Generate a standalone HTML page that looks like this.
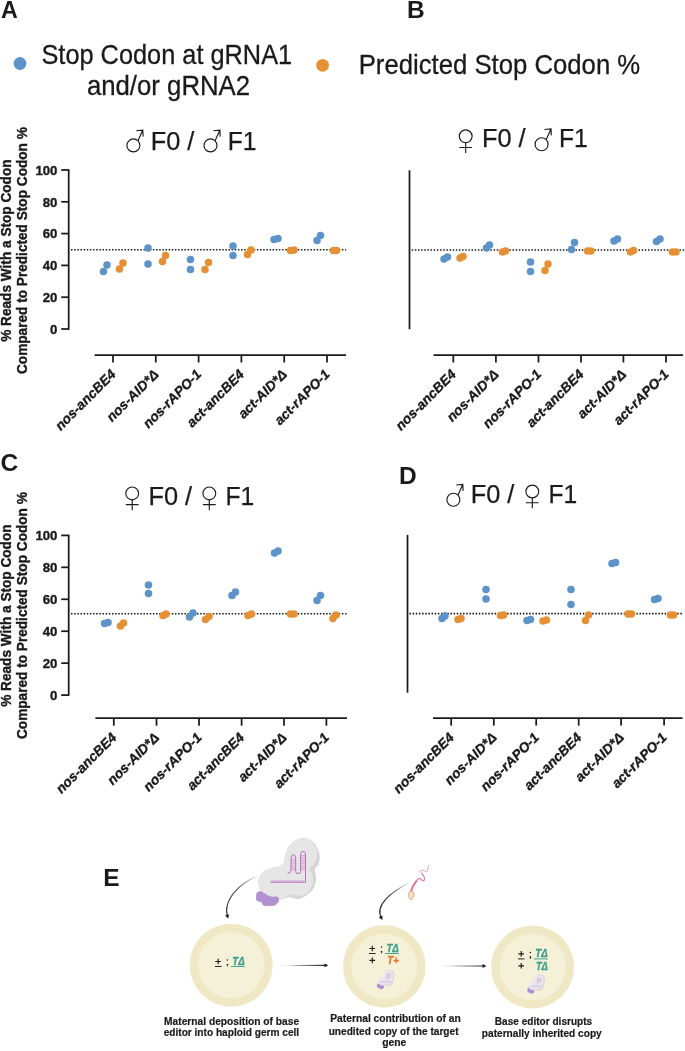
<!DOCTYPE html>
<html><head><meta charset="utf-8"><title>Figure</title>
<style>html,body{margin:0;padding:0;background:#fff;}body{width:685px;height:1051px;overflow:hidden;font-family:"Liberation Sans",sans-serif;}svg{display:block;will-change:transform;font-family:"Liberation Sans",sans-serif;}</style>
</head><body>
<svg width="685" height="1051" viewBox="0 0 685 1051">
<rect width="685" height="1051" fill="#ffffff"/>
<text x="0.9" y="17.8" font-size="24.5" font-weight="bold" font-style="normal" text-anchor="start" fill="#1a1a1a" textLength="16.8" lengthAdjust="spacingAndGlyphs">A</text>
<text x="407.1" y="17.8" font-size="24.5" font-weight="bold" font-style="normal" text-anchor="start" fill="#1a1a1a" >B</text>
<text x="0.6" y="471.4" font-size="24.5" font-weight="bold" font-style="normal" text-anchor="start" fill="#1a1a1a" >C</text>
<text x="398.9" y="483.8" font-size="24.5" font-weight="bold" font-style="normal" text-anchor="start" fill="#1a1a1a" >D</text>
<text x="103.2" y="885.9" font-size="24.5" font-weight="bold" font-style="normal" text-anchor="start" fill="#1a1a1a" >E</text>
<circle cx="20" cy="63.5" r="6.4" fill="#5c93c9"/>
<text x="166.8" y="63.6" font-size="27.4" font-weight="normal" font-style="normal" text-anchor="middle" fill="#1a1a1a" stroke="#1a1a1a" stroke-width="0.3" lengthAdjust="spacingAndGlyphs" textLength="250.7">Stop Codon at gRNA1</text>
<text x="168.5" y="94.9" font-size="27.4" font-weight="normal" font-style="normal" text-anchor="middle" fill="#1a1a1a" stroke="#1a1a1a" stroke-width="0.3" lengthAdjust="spacingAndGlyphs" textLength="163.2">and/or gRNA2</text>
<circle cx="322.6" cy="65.3" r="6.4" fill="#e69035"/>
<text x="358.7" y="73.9" font-size="27.4" font-weight="normal" font-style="normal" text-anchor="start" fill="#1a1a1a" stroke="#1a1a1a" stroke-width="0.3" lengthAdjust="spacingAndGlyphs" textLength="281.5">Predicted Stop Codon %</text>
<g fill="none" stroke="#1a1a1a" stroke-width="1.15"><circle cx="133.4" cy="145.4" r="6.5"/><path d="M138.0 140.8 L142.8 130.1 M136.3 130.7 L142.8 130.1 L143.1 136.6"/></g>
<text x="150.7" y="149.7" font-size="25.8" fill="#1a1a1a" stroke="#1a1a1a" stroke-width="0.25" textLength="43.7" lengthAdjust="spacingAndGlyphs">F0 /</text>
<g fill="none" stroke="#1a1a1a" stroke-width="1.15"><circle cx="210.5" cy="145.4" r="6.5"/><path d="M215.1 140.8 L219.9 130.1 M213.4 130.7 L219.9 130.1 L220.2 136.6"/></g>
<text x="227.8" y="149.7" font-size="25.8" fill="#1a1a1a" stroke="#1a1a1a" stroke-width="0.25" textLength="28.8" lengthAdjust="spacingAndGlyphs">F1</text>
<g fill="none" stroke="#1a1a1a" stroke-width="1.15"><circle cx="465.7" cy="136.3" r="6.4"/><path d="M465.7 142.70000000000002 L465.7 153.10000000000002 M459.3 147.5 L472.09999999999997 147.5"/></g>
<text x="481.9" y="146.6" font-size="25.8" fill="#1a1a1a" stroke="#1a1a1a" stroke-width="0.25" textLength="43.7" lengthAdjust="spacingAndGlyphs">F0 /</text>
<g fill="none" stroke="#1a1a1a" stroke-width="1.15"><circle cx="541.6" cy="144.2" r="6.5"/><path d="M546.2 139.6 L551.0 128.9 M544.5 129.5 L551.0 128.9 L551.3 135.4"/></g>
<text x="559.0" y="146.6" font-size="25.8" fill="#1a1a1a" stroke="#1a1a1a" stroke-width="0.25" textLength="28.8" lengthAdjust="spacingAndGlyphs">F1</text>
<g fill="none" stroke="#1a1a1a" stroke-width="1.15"><circle cx="132.2" cy="493.4" r="6.4"/><path d="M132.2 499.79999999999995 L132.2 510.2 M125.79999999999998 504.59999999999997 L138.6 504.59999999999997"/></g>
<text x="148.4" y="505" font-size="25.8" fill="#1a1a1a" stroke="#1a1a1a" stroke-width="0.25" textLength="43.7" lengthAdjust="spacingAndGlyphs">F0 /</text>
<g fill="none" stroke="#1a1a1a" stroke-width="1.15"><circle cx="209.3" cy="493.4" r="6.4"/><path d="M209.3 499.79999999999995 L209.3 510.2 M202.9 504.59999999999997 L215.70000000000002 504.59999999999997"/></g>
<text x="225.5" y="505" font-size="25.8" fill="#1a1a1a" stroke="#1a1a1a" stroke-width="0.25" textLength="28.8" lengthAdjust="spacingAndGlyphs">F1</text>
<g fill="none" stroke="#1a1a1a" stroke-width="1.15"><circle cx="453.4" cy="499.7" r="6.5"/><path d="M458.0 495.1 L462.8 484.4 M456.3 485.0 L462.8 484.4 L463.1 490.9"/></g>
<text x="470.7" y="502.6" font-size="25.8" fill="#1a1a1a" stroke="#1a1a1a" stroke-width="0.25" textLength="43.7" lengthAdjust="spacingAndGlyphs">F0 /</text>
<g fill="none" stroke="#1a1a1a" stroke-width="1.15"><circle cx="532.3" cy="491.5" r="6.4"/><path d="M532.3 497.9 L532.3 508.3 M525.9 502.7 L538.6999999999999 502.7"/></g>
<text x="548.5" y="502.6" font-size="25.8" fill="#1a1a1a" stroke="#1a1a1a" stroke-width="0.25" textLength="28.8" lengthAdjust="spacingAndGlyphs">F1</text>
<line x1="71" y1="249.8" x2="346.2" y2="249.8" stroke="#1a1a1a" stroke-width="1.6" stroke-dasharray="1.5 1.65"/><line x1="68.7" y1="169.3" x2="68.7" y2="329.7" stroke="#1a1a1a" stroke-width="1.75"/><line x1="61.2" y1="170.00" x2="68.7" y2="170.00" stroke="#1a1a1a" stroke-width="1.75"/><text x="57.400000000000006" y="174.7" font-size="13.2" font-weight="bold" font-style="normal" text-anchor="end" fill="#1a1a1a" stroke="#1a1a1a" stroke-width="0.35">100</text><line x1="61.2" y1="201.80" x2="68.7" y2="201.80" stroke="#1a1a1a" stroke-width="1.75"/><text x="57.400000000000006" y="206.5" font-size="13.2" font-weight="bold" font-style="normal" text-anchor="end" fill="#1a1a1a" stroke="#1a1a1a" stroke-width="0.35">80</text><line x1="61.2" y1="233.60" x2="68.7" y2="233.60" stroke="#1a1a1a" stroke-width="1.75"/><text x="57.400000000000006" y="238.3" font-size="13.2" font-weight="bold" font-style="normal" text-anchor="end" fill="#1a1a1a" stroke="#1a1a1a" stroke-width="0.35">60</text><line x1="61.2" y1="265.40" x2="68.7" y2="265.40" stroke="#1a1a1a" stroke-width="1.75"/><text x="57.400000000000006" y="270.1" font-size="13.2" font-weight="bold" font-style="normal" text-anchor="end" fill="#1a1a1a" stroke="#1a1a1a" stroke-width="0.35">40</text><line x1="61.2" y1="297.20" x2="68.7" y2="297.20" stroke="#1a1a1a" stroke-width="1.75"/><text x="57.400000000000006" y="301.9" font-size="13.2" font-weight="bold" font-style="normal" text-anchor="end" fill="#1a1a1a" stroke="#1a1a1a" stroke-width="0.35">20</text><line x1="61.2" y1="329.00" x2="68.7" y2="329.00" stroke="#1a1a1a" stroke-width="1.75"/><text x="57.400000000000006" y="333.7" font-size="13.2" font-weight="bold" font-style="normal" text-anchor="end" fill="#1a1a1a" stroke="#1a1a1a" stroke-width="0.35">0</text><line x1="94.6" y1="355" x2="346" y2="355" stroke="#1a1a1a" stroke-width="1.75"/><line x1="113" y1="355" x2="113" y2="362.5" stroke="#1a1a1a" stroke-width="1.75"/><text transform="translate(116.6,375.2) rotate(-45)" font-size="13.7" font-weight="bold" font-style="italic" text-anchor="end" fill="#1a1a1a" stroke="#1a1a1a" stroke-width="0.35">nos-ancBE4</text><line x1="155.8" y1="355" x2="155.8" y2="362.5" stroke="#1a1a1a" stroke-width="1.75"/><text transform="translate(159.4,375.2) rotate(-45)" font-size="13.7" font-weight="bold" font-style="italic" text-anchor="end" fill="#1a1a1a" stroke="#1a1a1a" stroke-width="0.35">nos-AID*Δ</text><line x1="198.6" y1="355" x2="198.6" y2="362.5" stroke="#1a1a1a" stroke-width="1.75"/><text transform="translate(202.2,375.2) rotate(-45)" font-size="13.7" font-weight="bold" font-style="italic" text-anchor="end" fill="#1a1a1a" stroke="#1a1a1a" stroke-width="0.35">nos-rAPO-1</text><line x1="241.4" y1="355" x2="241.4" y2="362.5" stroke="#1a1a1a" stroke-width="1.75"/><text transform="translate(245.0,375.2) rotate(-45)" font-size="13.7" font-weight="bold" font-style="italic" text-anchor="end" fill="#1a1a1a" stroke="#1a1a1a" stroke-width="0.35">act-ancBE4</text><line x1="284.2" y1="355" x2="284.2" y2="362.5" stroke="#1a1a1a" stroke-width="1.75"/><text transform="translate(287.8,375.2) rotate(-45)" font-size="13.7" font-weight="bold" font-style="italic" text-anchor="end" fill="#1a1a1a" stroke="#1a1a1a" stroke-width="0.35">act-AID*Δ</text><line x1="327" y1="355" x2="327" y2="362.5" stroke="#1a1a1a" stroke-width="1.75"/><text transform="translate(330.6,375.2) rotate(-45)" font-size="13.7" font-weight="bold" font-style="italic" text-anchor="end" fill="#1a1a1a" stroke="#1a1a1a" stroke-width="0.35">act-rAPO-1</text><circle cx="103.5" cy="271.5" r="3.75" fill="#5c93c9"/><circle cx="107" cy="265" r="3.75" fill="#5c93c9"/><circle cx="148" cy="248" r="3.75" fill="#5c93c9"/><circle cx="148" cy="264" r="3.75" fill="#5c93c9"/><circle cx="190.5" cy="259.5" r="3.75" fill="#5c93c9"/><circle cx="190.5" cy="269.5" r="3.75" fill="#5c93c9"/><circle cx="233" cy="246" r="3.75" fill="#5c93c9"/><circle cx="233" cy="255.5" r="3.75" fill="#5c93c9"/><circle cx="274" cy="239.5" r="3.75" fill="#5c93c9"/><circle cx="278" cy="238.5" r="3.75" fill="#5c93c9"/><circle cx="317" cy="240.5" r="3.75" fill="#5c93c9"/><circle cx="320.5" cy="235.5" r="3.75" fill="#5c93c9"/><circle cx="119.5" cy="269" r="3.75" fill="#e69035"/><circle cx="123" cy="263" r="3.75" fill="#e69035"/><circle cx="162.5" cy="261.5" r="3.75" fill="#e69035"/><circle cx="165.5" cy="255.5" r="3.75" fill="#e69035"/><circle cx="205" cy="269.5" r="3.75" fill="#e69035"/><circle cx="208.5" cy="262.5" r="3.75" fill="#e69035"/><circle cx="247.5" cy="254.5" r="3.75" fill="#e69035"/><circle cx="251" cy="250" r="3.75" fill="#e69035"/><circle cx="290.5" cy="250.5" r="3.75" fill="#e69035"/><circle cx="294" cy="250" r="3.75" fill="#e69035"/><circle cx="333.5" cy="250.5" r="3.75" fill="#e69035"/><circle cx="336.5" cy="250.5" r="3.75" fill="#e69035"/>
<text transform="translate(11.4,250.6) rotate(-90) scale(1,1.06)" font-size="13.65" font-weight="bold" text-anchor="middle" fill="#1a1a1a" stroke="#1a1a1a" stroke-width="0.35">% Reads With a Stop Codon</text><text transform="translate(27.4,250.6) rotate(-90) scale(1,1.06)" font-size="13.65" font-weight="bold" text-anchor="middle" fill="#1a1a1a" stroke="#1a1a1a" stroke-width="0.35">Compared to Predicted Stop Codon %</text>
<line x1="411.7" y1="250" x2="685" y2="250" stroke="#1a1a1a" stroke-width="1.6" stroke-dasharray="1.5 1.65"/><line x1="409.5" y1="170.3" x2="409.5" y2="329.2" stroke="#1a1a1a" stroke-width="1.75"/><line x1="433.5" y1="355" x2="683" y2="355" stroke="#1a1a1a" stroke-width="1.75"/><line x1="453.3" y1="355" x2="453.3" y2="362.5" stroke="#1a1a1a" stroke-width="1.75"/><text transform="translate(456.90000000000003,375.2) rotate(-45)" font-size="13.7" font-weight="bold" font-style="italic" text-anchor="end" fill="#1a1a1a" stroke="#1a1a1a" stroke-width="0.35">nos-ancBE4</text><line x1="495.9" y1="355" x2="495.9" y2="362.5" stroke="#1a1a1a" stroke-width="1.75"/><text transform="translate(499.5,375.2) rotate(-45)" font-size="13.7" font-weight="bold" font-style="italic" text-anchor="end" fill="#1a1a1a" stroke="#1a1a1a" stroke-width="0.35">nos-AID*Δ</text><line x1="538.5" y1="355" x2="538.5" y2="362.5" stroke="#1a1a1a" stroke-width="1.75"/><text transform="translate(542.1,375.2) rotate(-45)" font-size="13.7" font-weight="bold" font-style="italic" text-anchor="end" fill="#1a1a1a" stroke="#1a1a1a" stroke-width="0.35">nos-rAPO-1</text><line x1="581" y1="355" x2="581" y2="362.5" stroke="#1a1a1a" stroke-width="1.75"/><text transform="translate(584.6,375.2) rotate(-45)" font-size="13.7" font-weight="bold" font-style="italic" text-anchor="end" fill="#1a1a1a" stroke="#1a1a1a" stroke-width="0.35">act-ancBE4</text><line x1="623.4" y1="355" x2="623.4" y2="362.5" stroke="#1a1a1a" stroke-width="1.75"/><text transform="translate(627.0,375.2) rotate(-45)" font-size="13.7" font-weight="bold" font-style="italic" text-anchor="end" fill="#1a1a1a" stroke="#1a1a1a" stroke-width="0.35">act-AID*Δ</text><line x1="666" y1="355" x2="666" y2="362.5" stroke="#1a1a1a" stroke-width="1.75"/><text transform="translate(669.6,375.2) rotate(-45)" font-size="13.7" font-weight="bold" font-style="italic" text-anchor="end" fill="#1a1a1a" stroke="#1a1a1a" stroke-width="0.35">act-rAPO-1</text><circle cx="444" cy="259" r="3.75" fill="#5c93c9"/><circle cx="447.5" cy="257" r="3.75" fill="#5c93c9"/><circle cx="486.5" cy="248" r="3.75" fill="#5c93c9"/><circle cx="489.5" cy="245" r="3.75" fill="#5c93c9"/><circle cx="530.5" cy="262" r="3.75" fill="#5c93c9"/><circle cx="530.5" cy="271.5" r="3.75" fill="#5c93c9"/><circle cx="571.5" cy="249.5" r="3.75" fill="#5c93c9"/><circle cx="574.5" cy="242.5" r="3.75" fill="#5c93c9"/><circle cx="614" cy="241" r="3.75" fill="#5c93c9"/><circle cx="617.5" cy="239" r="3.75" fill="#5c93c9"/><circle cx="656.5" cy="241.5" r="3.75" fill="#5c93c9"/><circle cx="660" cy="239" r="3.75" fill="#5c93c9"/><circle cx="460" cy="258" r="3.75" fill="#e69035"/><circle cx="463" cy="256.5" r="3.75" fill="#e69035"/><circle cx="502.5" cy="252" r="3.75" fill="#e69035"/><circle cx="505.5" cy="251" r="3.75" fill="#e69035"/><circle cx="545" cy="270.5" r="3.75" fill="#e69035"/><circle cx="548" cy="264" r="3.75" fill="#e69035"/><circle cx="587.5" cy="251" r="3.75" fill="#e69035"/><circle cx="591" cy="251" r="3.75" fill="#e69035"/><circle cx="630.5" cy="252" r="3.75" fill="#e69035"/><circle cx="633.5" cy="250.5" r="3.75" fill="#e69035"/><circle cx="672.5" cy="252" r="3.75" fill="#e69035"/><circle cx="676" cy="252" r="3.75" fill="#e69035"/>
<line x1="71" y1="613.7" x2="347" y2="613.7" stroke="#1a1a1a" stroke-width="1.6" stroke-dasharray="1.5 1.65"/><line x1="68.7" y1="534.6999999999999" x2="68.7" y2="695.8000000000001" stroke="#1a1a1a" stroke-width="1.75"/><line x1="61.2" y1="535.40" x2="68.7" y2="535.40" stroke="#1a1a1a" stroke-width="1.75"/><text x="57.400000000000006" y="540.1" font-size="13.2" font-weight="bold" font-style="normal" text-anchor="end" fill="#1a1a1a" stroke="#1a1a1a" stroke-width="0.35">100</text><line x1="61.2" y1="567.34" x2="68.7" y2="567.34" stroke="#1a1a1a" stroke-width="1.75"/><text x="57.400000000000006" y="572.04" font-size="13.2" font-weight="bold" font-style="normal" text-anchor="end" fill="#1a1a1a" stroke="#1a1a1a" stroke-width="0.35">80</text><line x1="61.2" y1="599.28" x2="68.7" y2="599.28" stroke="#1a1a1a" stroke-width="1.75"/><text x="57.400000000000006" y="603.98" font-size="13.2" font-weight="bold" font-style="normal" text-anchor="end" fill="#1a1a1a" stroke="#1a1a1a" stroke-width="0.35">60</text><line x1="61.2" y1="631.22" x2="68.7" y2="631.22" stroke="#1a1a1a" stroke-width="1.75"/><text x="57.400000000000006" y="635.92" font-size="13.2" font-weight="bold" font-style="normal" text-anchor="end" fill="#1a1a1a" stroke="#1a1a1a" stroke-width="0.35">40</text><line x1="61.2" y1="663.16" x2="68.7" y2="663.16" stroke="#1a1a1a" stroke-width="1.75"/><text x="57.400000000000006" y="667.86" font-size="13.2" font-weight="bold" font-style="normal" text-anchor="end" fill="#1a1a1a" stroke="#1a1a1a" stroke-width="0.35">20</text><line x1="61.2" y1="695.10" x2="68.7" y2="695.10" stroke="#1a1a1a" stroke-width="1.75"/><text x="57.400000000000006" y="699.8" font-size="13.2" font-weight="bold" font-style="normal" text-anchor="end" fill="#1a1a1a" stroke="#1a1a1a" stroke-width="0.35">0</text><line x1="95.4" y1="718.2" x2="347" y2="718.2" stroke="#1a1a1a" stroke-width="1.75"/><line x1="113.8" y1="718.2" x2="113.8" y2="725.7" stroke="#1a1a1a" stroke-width="1.75"/><text transform="translate(117.39999999999999,738.4000000000001) rotate(-45)" font-size="13.7" font-weight="bold" font-style="italic" text-anchor="end" fill="#1a1a1a" stroke="#1a1a1a" stroke-width="0.35">nos-ancBE4</text><line x1="156.5" y1="718.2" x2="156.5" y2="725.7" stroke="#1a1a1a" stroke-width="1.75"/><text transform="translate(160.1,738.4000000000001) rotate(-45)" font-size="13.7" font-weight="bold" font-style="italic" text-anchor="end" fill="#1a1a1a" stroke="#1a1a1a" stroke-width="0.35">nos-AID*Δ</text><line x1="199" y1="718.2" x2="199" y2="725.7" stroke="#1a1a1a" stroke-width="1.75"/><text transform="translate(202.6,738.4000000000001) rotate(-45)" font-size="13.7" font-weight="bold" font-style="italic" text-anchor="end" fill="#1a1a1a" stroke="#1a1a1a" stroke-width="0.35">nos-rAPO-1</text><line x1="241.6" y1="718.2" x2="241.6" y2="725.7" stroke="#1a1a1a" stroke-width="1.75"/><text transform="translate(245.2,738.4000000000001) rotate(-45)" font-size="13.7" font-weight="bold" font-style="italic" text-anchor="end" fill="#1a1a1a" stroke="#1a1a1a" stroke-width="0.35">act-ancBE4</text><line x1="284" y1="718.2" x2="284" y2="725.7" stroke="#1a1a1a" stroke-width="1.75"/><text transform="translate(287.6,738.4000000000001) rotate(-45)" font-size="13.7" font-weight="bold" font-style="italic" text-anchor="end" fill="#1a1a1a" stroke="#1a1a1a" stroke-width="0.35">act-AID*Δ</text><line x1="326.4" y1="718.2" x2="326.4" y2="725.7" stroke="#1a1a1a" stroke-width="1.75"/><text transform="translate(330.0,738.4000000000001) rotate(-45)" font-size="13.7" font-weight="bold" font-style="italic" text-anchor="end" fill="#1a1a1a" stroke="#1a1a1a" stroke-width="0.35">act-rAPO-1</text><circle cx="104.5" cy="623.4" r="3.75" fill="#5c93c9"/><circle cx="108.0" cy="622.4" r="3.75" fill="#5c93c9"/><circle cx="148.5" cy="584.9" r="3.75" fill="#5c93c9"/><circle cx="148.5" cy="593.4" r="3.75" fill="#5c93c9"/><circle cx="189.5" cy="616.9" r="3.75" fill="#5c93c9"/><circle cx="193.0" cy="612.9" r="3.75" fill="#5c93c9"/><circle cx="232.0" cy="595.4" r="3.75" fill="#5c93c9"/><circle cx="235.5" cy="591.9" r="3.75" fill="#5c93c9"/><circle cx="274.5" cy="552.9" r="3.75" fill="#5c93c9"/><circle cx="278.0" cy="550.9" r="3.75" fill="#5c93c9"/><circle cx="317.0" cy="600.4" r="3.75" fill="#5c93c9"/><circle cx="320.5" cy="595.4" r="3.75" fill="#5c93c9"/><circle cx="120.5" cy="625.9" r="3.75" fill="#e69035"/><circle cx="123.5" cy="622.9" r="3.75" fill="#e69035"/><circle cx="163.0" cy="615.4" r="3.75" fill="#e69035"/><circle cx="166.0" cy="613.9" r="3.75" fill="#e69035"/><circle cx="205.5" cy="619.4" r="3.75" fill="#e69035"/><circle cx="209.0" cy="616.4" r="3.75" fill="#e69035"/><circle cx="248.0" cy="615.4" r="3.75" fill="#e69035"/><circle cx="251.5" cy="613.9" r="3.75" fill="#e69035"/><circle cx="290.5" cy="613.9" r="3.75" fill="#e69035"/><circle cx="294.0" cy="613.9" r="3.75" fill="#e69035"/><circle cx="333.0" cy="618.4" r="3.75" fill="#e69035"/><circle cx="336.0" cy="614.9" r="3.75" fill="#e69035"/>
<text transform="translate(11.4,615.6) rotate(-90) scale(1,1.06)" font-size="13.65" font-weight="bold" text-anchor="middle" fill="#1a1a1a" stroke="#1a1a1a" stroke-width="0.35">% Reads With a Stop Codon</text><text transform="translate(27.4,615.6) rotate(-90) scale(1,1.06)" font-size="13.65" font-weight="bold" text-anchor="middle" fill="#1a1a1a" stroke="#1a1a1a" stroke-width="0.35">Compared to Predicted Stop Codon %</text>
<line x1="409.5" y1="613.6" x2="683" y2="613.6" stroke="#1a1a1a" stroke-width="1.6" stroke-dasharray="1.5 1.65"/><line x1="407.5" y1="534.9" x2="407.5" y2="692.7" stroke="#1a1a1a" stroke-width="1.75"/><line x1="433" y1="718.1" x2="682.5" y2="718.1" stroke="#1a1a1a" stroke-width="1.75"/><line x1="451.2" y1="718.1" x2="451.2" y2="725.6" stroke="#1a1a1a" stroke-width="1.75"/><text transform="translate(454.8,738.3000000000001) rotate(-45)" font-size="13.7" font-weight="bold" font-style="italic" text-anchor="end" fill="#1a1a1a" stroke="#1a1a1a" stroke-width="0.35">nos-ancBE4</text><line x1="493.8" y1="718.1" x2="493.8" y2="725.6" stroke="#1a1a1a" stroke-width="1.75"/><text transform="translate(497.40000000000003,738.3000000000001) rotate(-45)" font-size="13.7" font-weight="bold" font-style="italic" text-anchor="end" fill="#1a1a1a" stroke="#1a1a1a" stroke-width="0.35">nos-AID*Δ</text><line x1="536.2" y1="718.1" x2="536.2" y2="725.6" stroke="#1a1a1a" stroke-width="1.75"/><text transform="translate(539.8000000000001,738.3000000000001) rotate(-45)" font-size="13.7" font-weight="bold" font-style="italic" text-anchor="end" fill="#1a1a1a" stroke="#1a1a1a" stroke-width="0.35">nos-rAPO-1</text><line x1="578.7" y1="718.1" x2="578.7" y2="725.6" stroke="#1a1a1a" stroke-width="1.75"/><text transform="translate(582.3000000000001,738.3000000000001) rotate(-45)" font-size="13.7" font-weight="bold" font-style="italic" text-anchor="end" fill="#1a1a1a" stroke="#1a1a1a" stroke-width="0.35">act-ancBE4</text><line x1="621.1" y1="718.1" x2="621.1" y2="725.6" stroke="#1a1a1a" stroke-width="1.75"/><text transform="translate(624.7,738.3000000000001) rotate(-45)" font-size="13.7" font-weight="bold" font-style="italic" text-anchor="end" fill="#1a1a1a" stroke="#1a1a1a" stroke-width="0.35">act-AID*Δ</text><line x1="664.1" y1="718.1" x2="664.1" y2="725.6" stroke="#1a1a1a" stroke-width="1.75"/><text transform="translate(667.7,738.3000000000001) rotate(-45)" font-size="13.7" font-weight="bold" font-style="italic" text-anchor="end" fill="#1a1a1a" stroke="#1a1a1a" stroke-width="0.35">act-rAPO-1</text><circle cx="442" cy="618.5" r="3.75" fill="#5c93c9"/><circle cx="445" cy="616" r="3.75" fill="#5c93c9"/><circle cx="486" cy="589.5" r="3.75" fill="#5c93c9"/><circle cx="486" cy="599" r="3.75" fill="#5c93c9"/><circle cx="527" cy="620.5" r="3.75" fill="#5c93c9"/><circle cx="530.5" cy="619.5" r="3.75" fill="#5c93c9"/><circle cx="571" cy="589.5" r="3.75" fill="#5c93c9"/><circle cx="571" cy="604.5" r="3.75" fill="#5c93c9"/><circle cx="612" cy="563.5" r="3.75" fill="#5c93c9"/><circle cx="615.5" cy="562.5" r="3.75" fill="#5c93c9"/><circle cx="654.5" cy="599.5" r="3.75" fill="#5c93c9"/><circle cx="658" cy="598.5" r="3.75" fill="#5c93c9"/><circle cx="458" cy="619.5" r="3.75" fill="#e69035"/><circle cx="461" cy="618.5" r="3.75" fill="#e69035"/><circle cx="500.5" cy="615.5" r="3.75" fill="#e69035"/><circle cx="503.5" cy="615" r="3.75" fill="#e69035"/><circle cx="543" cy="621" r="3.75" fill="#e69035"/><circle cx="546.5" cy="620" r="3.75" fill="#e69035"/><circle cx="585.5" cy="620.5" r="3.75" fill="#e69035"/><circle cx="588.5" cy="615" r="3.75" fill="#e69035"/><circle cx="628" cy="614" r="3.75" fill="#e69035"/><circle cx="631.5" cy="614" r="3.75" fill="#e69035"/><circle cx="670.5" cy="615" r="3.75" fill="#e69035"/><circle cx="673.5" cy="615" r="3.75" fill="#e69035"/>
<g id="panelE"><circle cx="231.2" cy="965.2" r="41.5" fill="#f0e8c5"/><circle cx="231.2" cy="965.2" r="33.2" fill="#f5f0d8"/><circle cx="384.3" cy="966.4" r="41.3" fill="#f0e8c5"/><circle cx="384.3" cy="966.4" r="33.0" fill="#f5f0d8"/><circle cx="532.6" cy="967" r="41.5" fill="#f0e8c5"/><circle cx="532.6" cy="967" r="33.2" fill="#f5f0d8"/><linearGradient id="ga1" gradientUnits="userSpaceOnUse" x1="277.5" y1="0" x2="328.3" y2="0"><stop offset="0" stop-color="#1a1a1a" stop-opacity="0.1"/><stop offset="0.4" stop-color="#1a1a1a" stop-opacity="0.8"/><stop offset="1" stop-color="#1a1a1a" stop-opacity="1"/></linearGradient><path d="M277.5 965.3 L325.3 964.6999999999999 L325.3 965.9 Z" fill="url(#ga1)"/><path d="M328.3 965.3 L324.5 963.4 L324.5 967.1999999999999 Z" fill="#1a1a1a"/><linearGradient id="ga2" gradientUnits="userSpaceOnUse" x1="436.3" y1="0" x2="486.4" y2="0"><stop offset="0" stop-color="#1a1a1a" stop-opacity="0.1"/><stop offset="0.4" stop-color="#1a1a1a" stop-opacity="0.8"/><stop offset="1" stop-color="#1a1a1a" stop-opacity="1"/></linearGradient><path d="M436.3 966 L483.4 965.4 L483.4 966.6 Z" fill="url(#ga2)"/><path d="M486.4 966 L482.59999999999997 964.1 L482.59999999999997 967.9 Z" fill="#1a1a1a"/><linearGradient id="gc1" gradientUnits="userSpaceOnUse" x1="257.7" y1="875.9" x2="227.8" y2="917.2"><stop offset="0" stop-color="#1a1a1a" stop-opacity="0.05"/><stop offset="0.5" stop-color="#1a1a1a" stop-opacity="0.85"/><stop offset="1" stop-color="#1a1a1a" stop-opacity="1"/></linearGradient><path d="M257.7 875.9 C240 883 222 900 227.8 917.2" fill="none" stroke="url(#gc1)" stroke-width="1.1"/><path d="M228.28 918.62 L225.11 915.47 L228.90 914.19 Z" fill="#1a1a1a"/><linearGradient id="gc2" gradientUnits="userSpaceOnUse" x1="408.9" y1="882.8" x2="381.8" y2="918.6"><stop offset="0" stop-color="#1a1a1a" stop-opacity="0.05"/><stop offset="0.5" stop-color="#1a1a1a" stop-opacity="0.85"/><stop offset="1" stop-color="#1a1a1a" stop-opacity="1"/></linearGradient><path d="M408.9 882.8 C392 892 373.5 905 381.8 918.6" fill="none" stroke="url(#gc2)" stroke-width="1.1"/><path d="M382.58 919.88 L378.79 917.51 L382.20 915.42 Z" fill="#1a1a1a"/><clipPath id="casclip"><path d="M302.34 837.88 C306.14 837.71 310.87 839.84 313.73 842.61 C316.59 845.39 318.72 850.94 319.51 854.53 C320.30 858.12 319.25 861.68 318.46 864.16 C317.67 866.64 315.16 866.94 314.78 869.42 C314.40 871.90 316.65 875.55 316.18 879.05 C315.71 882.56 314.72 887.17 311.98 890.44 C309.23 893.71 303.51 897.54 299.71 898.68 C295.92 899.81 292.21 897.16 289.20 897.27 C286.19 897.39 284.44 898.85 281.67 899.38 C278.89 899.90 275.68 901.13 272.56 900.43 C269.43 899.73 265.29 898.15 262.92 895.17 C260.56 892.19 258.51 886.27 258.37 882.56 C258.22 878.85 259.83 875.40 262.05 872.92 C264.27 870.44 268.91 868.75 271.68 867.67 C274.46 866.59 276.65 867.32 278.69 866.44 C280.73 865.56 282.84 864.40 283.95 862.41 C285.05 860.43 284.18 857.65 285.35 854.53 C286.51 851.40 288.12 846.44 290.95 843.67 C293.79 840.89 298.54 838.06 302.34 837.88 Z"/></clipPath><path d="M302.34 837.88 C306.14 837.71 310.87 839.84 313.73 842.61 C316.59 845.39 318.72 850.94 319.51 854.53 C320.30 858.12 319.25 861.68 318.46 864.16 C317.67 866.64 315.16 866.94 314.78 869.42 C314.40 871.90 316.65 875.55 316.18 879.05 C315.71 882.56 314.72 887.17 311.98 890.44 C309.23 893.71 303.51 897.54 299.71 898.68 C295.92 899.81 292.21 897.16 289.20 897.27 C286.19 897.39 284.44 898.85 281.67 899.38 C278.89 899.90 275.68 901.13 272.56 900.43 C269.43 899.73 265.29 898.15 262.92 895.17 C260.56 892.19 258.51 886.27 258.37 882.56 C258.22 878.85 259.83 875.40 262.05 872.92 C264.27 870.44 268.91 868.75 271.68 867.67 C274.46 866.59 276.65 867.32 278.69 866.44 C280.73 865.56 282.84 864.40 283.95 862.41 C285.05 860.43 284.18 857.65 285.35 854.53 C286.51 851.40 288.12 846.44 290.95 843.67 C293.79 840.89 298.54 838.06 302.34 837.88 Z" fill="#d5d5d5"/><g clip-path="url(#casclip)" fill="#e5e6e5"><circle cx="300.6" cy="854.2" r="16.6"/><ellipse cx="276.6" cy="882.6" rx="19.2" ry="16.6"/><circle cx="297.6" cy="880.2" r="15.6"/><path d="M283 850 L262 872 L288 896 L312 866 Z"/></g><g fill="#b192d0"><circle cx="260.2" cy="895.2" r="4.0"/><circle cx="263.5" cy="898.2" r="5.0"/><circle cx="268.2" cy="900.6" r="5.2"/><circle cx="273" cy="901.2" r="4.5"/><circle cx="275.6" cy="900" r="3.4"/><circle cx="259.2" cy="898.2" r="3.2"/><circle cx="265.5" cy="902.8" r="3.3"/><circle cx="271" cy="903.2" r="2.8"/></g><path d="M270.5 882.2 H305.5 V855 Q305.5 851.3 303.05 851.3 Q300.6 851.3 300.6 855 V871.5 Q300.6 873.6 298.15 873.6 Q295.7 873.6 295.7 871.5 V858.5 Q295.7 854.8 293.35 854.8 Q291 854.8 291 858.5 V870 Q291 873.2 287.6 873.4" fill="none" stroke="#bd6cc0" stroke-width="1.0"/><path d="M271.30 882.2 V880 M273.05 882.2 V880 M274.80 882.2 V880 M276.55 882.2 V880 M278.30 882.2 V880 M280.05 882.2 V880 M281.80 882.2 V880 M283.55 882.2 V880 M285.30 882.2 V880 M287.05 882.2 V880 M288.80 882.2 V880 M290.55 882.2 V880 M292.30 882.2 V880 M294.05 882.2 V880 M295.80 882.2 V880 M297.55 882.2 V880 M299.30 882.2 V880 M301.05 882.2 V880 M302.80 882.2 V880 M300.6 855.50 H305.5 M300.6 857.10 H305.5 M300.6 858.70 H305.5 M300.6 860.30 H305.5 M300.6 861.90 H305.5 M300.6 863.50 H305.5 M300.6 865.10 H305.5 M300.6 866.70 H305.5 M300.6 868.30 H305.5 M300.6 869.90 H305.5 M291 859.00 H295.7 M291 860.60 H295.7 M291 862.20 H295.7 M291 863.80 H295.7 M291 865.40 H295.7 M291 867.00 H295.7 M291 868.60 H295.7 M291 870.20 H295.7 " fill="none" stroke="#bd6cc0" stroke-width="0.5" opacity="0.85"/><path d="M411.09 891.61 C411.39 890.75 412.00 888.20 412.85 886.50 C413.70 884.79 415.64 882.24 416.20 881.39 " fill="none" stroke="#e0789b" stroke-width="2.1" stroke-linecap="round"/><path d="M416.20 881.39 C416.52 880.97 417.45 879.37 418.10 878.91 C418.76 878.44 419.42 878.32 420.15 878.61 C420.88 878.91 421.80 880.44 422.48 880.66 C423.16 880.88 423.94 880.54 424.23 879.93 C424.53 879.32 424.60 878.05 424.23 877.01 C423.87 875.96 422.41 874.21 422.04 873.65 " fill="none" stroke="#e0789b" stroke-width="1.15" stroke-linecap="round"/><path d="M422.04 873.65 C421.73 873.36 420.27 872.43 420.15 871.90 C420.02 871.36 420.63 870.63 421.31 870.44 C422.00 870.24 423.38 870.49 424.23 870.73 C425.09 870.97 425.86 872.00 426.42 871.90 C426.98 871.80 427.23 871.24 427.59 870.15 C427.96 869.05 428.44 866.13 428.61 865.33 " fill="none" stroke="#e0789b" stroke-width="0.7" stroke-linecap="round"/><path d="M410.8 899.8 C408.4 897.6 407.6 893.6 409.2 892 C410.8 890.6 413.8 891.4 414.1 893.8 C414.4 896 413 898.8 410.8 899.8 Z" fill="#f6e3ae" stroke="#d9809f" stroke-width="0.7"/><path d="M215.39999999999998 961.5 H221.0 M218.2 958.7 V964.3" stroke="#1a1a1a" stroke-width="1.15" fill="none"/><path d="M215 966.5 H221.5" stroke="#1a1a1a" stroke-width="0.95"/><circle cx="227.4" cy="960.0" r="0.75" fill="#1a1a1a"/><path d="M226.65 963.9 h1.5 v1.1 q0 1.1 -1.1 1.6 l-0.3 -0.4 q0.6 -0.4 0.6 -0.9 h-0.7 Z" fill="#1a1a1a"/><text x="232.3" y="964.5" font-size="11" font-weight="bold" font-style="italic" fill="#3d9d8c" stroke="#3d9d8c" stroke-width="0.3" textLength="12.4" lengthAdjust="spacingAndGlyphs">TΔ</text><path d="M231 966.5 H244.8" stroke="#3d9d8c" stroke-width="0.95"/><path d="M369.5 948.5 H375.1 M372.3 945.7 V951.3" stroke="#1a1a1a" stroke-width="1.15" fill="none"/><path d="M369.1 953.5 H375.6" stroke="#1a1a1a" stroke-width="0.95"/><circle cx="381.5" cy="947.0" r="0.75" fill="#1a1a1a"/><path d="M380.75 950.9 h1.5 v1.1 q0 1.1 -1.1 1.6 l-0.3 -0.4 q0.6 -0.4 0.6 -0.9 h-0.7 Z" fill="#1a1a1a"/><text x="386.40000000000003" y="951.5" font-size="11" font-weight="bold" font-style="italic" fill="#3d9d8c" stroke="#3d9d8c" stroke-width="0.3" textLength="12.4" lengthAdjust="spacingAndGlyphs">TΔ</text><path d="M385.1 953.5 H398.90000000000003" stroke="#3d9d8c" stroke-width="0.95"/><path d="M369.5 960.4 H375.1 M372.3 957.6 V963.1999999999999" stroke="#1a1a1a" stroke-width="1.15" fill="none"/><text x="387.3" y="963.6" font-size="11" font-weight="bold" font-style="italic" fill="#e07b2d" stroke="#e07b2d" stroke-width="0.3" textLength="11.6" lengthAdjust="spacingAndGlyphs">T+</text><path d="M518.4000000000001 953.9 H524.0 M521.2 951.1 V956.6999999999999" stroke="#1a1a1a" stroke-width="1.15" fill="none"/><path d="M518.0 958.9 H524.5" stroke="#1a1a1a" stroke-width="0.95"/><circle cx="530.4" cy="952.4" r="0.75" fill="#1a1a1a"/><path d="M529.65 956.3 h1.5 v1.1 q0 1.1 -1.1 1.6 l-0.3 -0.4 q0.6 -0.4 0.6 -0.9 h-0.7 Z" fill="#1a1a1a"/><text x="535.3" y="956.9" font-size="11" font-weight="bold" font-style="italic" fill="#3d9d8c" stroke="#3d9d8c" stroke-width="0.3" textLength="12.4" lengthAdjust="spacingAndGlyphs">TΔ</text><path d="M534.0 958.9 H547.8" stroke="#3d9d8c" stroke-width="0.95"/><path d="M518.4000000000001 965.8 H524.0 M521.2 963.0 V968.5999999999999" stroke="#1a1a1a" stroke-width="1.15" fill="none"/><text x="535.9" y="969.6" font-size="11" font-weight="bold" font-style="italic" fill="#3d9d8c" stroke="#3d9d8c" stroke-width="0.3" textLength="12" lengthAdjust="spacingAndGlyphs">TΔ</text><g transform="translate(-150.4,-4.4)"><ellipse cx="530.8" cy="990.7" rx="3.7" ry="2.5" transform="rotate(24 530.8 990.7)" fill="#b08bd3"/><path d="M540.44 974.20 C541.38 974.36 542.74 974.75 543.51 975.48 C544.27 976.20 544.85 977.39 545.04 978.54 C545.23 979.69 544.83 981.22 544.63 982.37 C544.43 983.52 544.15 984.35 543.81 985.44 C543.47 986.53 543.53 988.06 542.59 988.91 C541.64 989.77 539.52 990.34 538.14 990.55 C536.76 990.75 535.59 990.29 534.31 990.14 C533.03 989.99 531.45 990.20 530.48 989.63 C529.50 989.06 528.61 987.74 528.48 986.72 C528.35 985.69 528.93 984.37 529.71 983.50 C530.49 982.62 532.26 982.14 533.18 981.45 C534.10 980.77 534.78 980.26 535.23 979.41 C535.67 978.56 535.40 977.16 535.84 976.34 C536.28 975.53 537.12 974.86 537.88 974.50 C538.65 974.15 539.50 974.04 540.44 974.20 Z" fill="#d9d7df"/><path d="M540.44 974.20 C541.38 974.36 542.74 974.75 543.51 975.48 C544.27 976.20 544.85 977.39 545.04 978.54 C545.23 979.69 544.83 981.22 544.63 982.37 C544.43 983.52 544.15 984.35 543.81 985.44 C543.47 986.53 543.53 988.06 542.59 988.91 C541.64 989.77 539.52 990.34 538.14 990.55 C536.76 990.75 535.59 990.29 534.31 990.14 C533.03 989.99 531.45 990.20 530.48 989.63 C529.50 989.06 528.61 987.74 528.48 986.72 C528.35 985.69 528.93 984.37 529.71 983.50 C530.49 982.62 532.26 982.14 533.18 981.45 C534.10 980.77 534.78 980.26 535.23 979.41 C535.67 978.56 535.40 977.16 535.84 976.34 C536.28 975.53 537.12 974.86 537.88 974.50 C538.65 974.15 539.50 974.04 540.44 974.20 Z" fill="#e9e7ed" transform="translate(-0.7,-0.6) translate(536.5,982.5) scale(0.9) translate(-536.5,-982.5)"/><path d="M531 986.2 H541 M537.6 978 V982.6 M539.2 977.4 V983.2 M540.6 978 V982 M536.4 983.6 Q537.4 983.4 537.9 982.4" fill="none" stroke="#cfa0d8" stroke-width="0.7"/></g><g transform="translate(0,0)"><ellipse cx="530.8" cy="990.7" rx="3.7" ry="2.5" transform="rotate(24 530.8 990.7)" fill="#b08bd3"/><path d="M540.44 974.20 C541.38 974.36 542.74 974.75 543.51 975.48 C544.27 976.20 544.85 977.39 545.04 978.54 C545.23 979.69 544.83 981.22 544.63 982.37 C544.43 983.52 544.15 984.35 543.81 985.44 C543.47 986.53 543.53 988.06 542.59 988.91 C541.64 989.77 539.52 990.34 538.14 990.55 C536.76 990.75 535.59 990.29 534.31 990.14 C533.03 989.99 531.45 990.20 530.48 989.63 C529.50 989.06 528.61 987.74 528.48 986.72 C528.35 985.69 528.93 984.37 529.71 983.50 C530.49 982.62 532.26 982.14 533.18 981.45 C534.10 980.77 534.78 980.26 535.23 979.41 C535.67 978.56 535.40 977.16 535.84 976.34 C536.28 975.53 537.12 974.86 537.88 974.50 C538.65 974.15 539.50 974.04 540.44 974.20 Z" fill="#d9d7df"/><path d="M540.44 974.20 C541.38 974.36 542.74 974.75 543.51 975.48 C544.27 976.20 544.85 977.39 545.04 978.54 C545.23 979.69 544.83 981.22 544.63 982.37 C544.43 983.52 544.15 984.35 543.81 985.44 C543.47 986.53 543.53 988.06 542.59 988.91 C541.64 989.77 539.52 990.34 538.14 990.55 C536.76 990.75 535.59 990.29 534.31 990.14 C533.03 989.99 531.45 990.20 530.48 989.63 C529.50 989.06 528.61 987.74 528.48 986.72 C528.35 985.69 528.93 984.37 529.71 983.50 C530.49 982.62 532.26 982.14 533.18 981.45 C534.10 980.77 534.78 980.26 535.23 979.41 C535.67 978.56 535.40 977.16 535.84 976.34 C536.28 975.53 537.12 974.86 537.88 974.50 C538.65 974.15 539.50 974.04 540.44 974.20 Z" fill="#e9e7ed" transform="translate(-0.7,-0.6) translate(536.5,982.5) scale(0.9) translate(-536.5,-982.5)"/><path d="M531 986.2 H541 M537.6 978 V982.6 M539.2 977.4 V983.2 M540.6 978 V982 M536.4 983.6 Q537.4 983.4 537.9 982.4" fill="none" stroke="#cfa0d8" stroke-width="0.7"/></g><text x="231.6" y="1025" font-size="11.3" font-weight="bold" text-anchor="middle" fill="#1a1a1a" stroke="#1a1a1a" stroke-width="0.2" textLength="135.1" lengthAdjust="spacingAndGlyphs">Maternal deposition of base</text><text x="231.4" y="1036.3" font-size="11.3" font-weight="bold" text-anchor="middle" fill="#1a1a1a" stroke="#1a1a1a" stroke-width="0.2" textLength="135.5" lengthAdjust="spacingAndGlyphs">editor into haploid germ cell</text><text x="395.5" y="1022.3" font-size="11.3" font-weight="bold" text-anchor="middle" fill="#1a1a1a" stroke="#1a1a1a" stroke-width="0.2" textLength="130.5" lengthAdjust="spacingAndGlyphs">Paternal contribution of an</text><text x="393.6" y="1034.6" font-size="11.3" font-weight="bold" text-anchor="middle" fill="#1a1a1a" stroke="#1a1a1a" stroke-width="0.2" textLength="129.9" lengthAdjust="spacingAndGlyphs">unedited copy of the target</text><text x="394.3" y="1046.1" font-size="11.3" font-weight="bold" text-anchor="middle" fill="#1a1a1a" stroke="#1a1a1a" stroke-width="0.2" textLength="24.2" lengthAdjust="spacingAndGlyphs">gene</text><text x="543.5" y="1024.5" font-size="11.3" font-weight="bold" text-anchor="middle" fill="#1a1a1a" stroke="#1a1a1a" stroke-width="0.2" textLength="97.3" lengthAdjust="spacingAndGlyphs">Base editor disrupts</text><text x="541.8" y="1037" font-size="11.3" font-weight="bold" text-anchor="middle" fill="#1a1a1a" stroke="#1a1a1a" stroke-width="0.2" textLength="119.9" lengthAdjust="spacingAndGlyphs">paternally inherited copy</text></g>
</svg>
</body></html>
